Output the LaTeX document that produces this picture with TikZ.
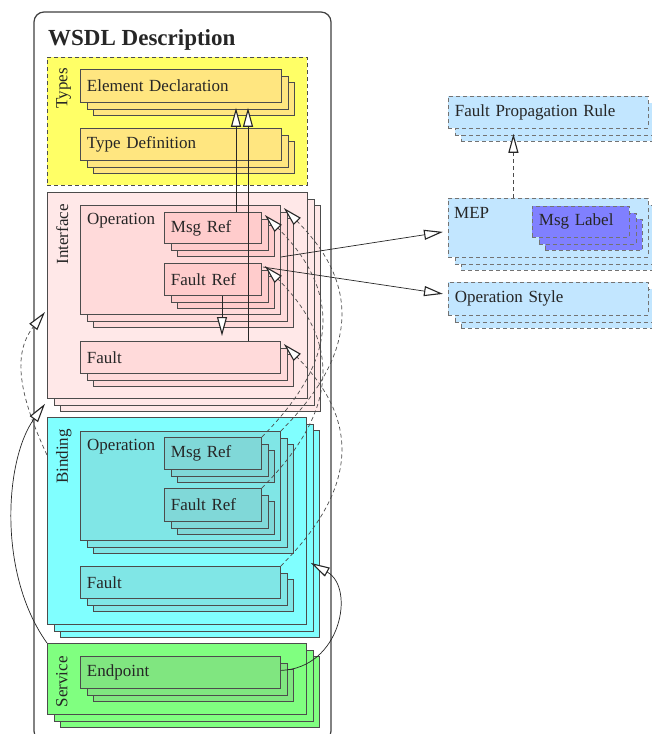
\documentclass[tikz,border=0pt]{standalone}
\usepackage{fontspec}
\setmainfont{Liberation Serif}
\usepackage{xcolor}
\usetikzlibrary{positioning, arrows.meta, shadows, calc}

\definecolor{typesfill}{HTML}{FFFF66}
\definecolor{declfill}{HTML}{FFE680}
\definecolor{ifacefill}{HTML}{FFE8E8}
\definecolor{iopfill}{HTML}{FFDADA}
\definecolor{imsgfill}{HTML}{FFCCCC}
\definecolor{bindfill}{HTML}{80FFFF}
\definecolor{bopfill}{HTML}{80E6E6}
\definecolor{bmsgfill}{HTML}{80D8D8}
\definecolor{servfill}{HTML}{80FF80}
\definecolor{endfill}{HTML}{80E680}
\definecolor{extfill}{HTML}{C2E6FF}
\definecolor{labelfill}{HTML}{8080FF}

\tikzset{
  txt/.style={font=\fontsize{17}{20}\selectfont, text=black!85},
  comp/.style={txt, draw=black!70, line width=0.8pt, anchor=north west, align=left,
    inner xsep=6.5pt, inner ysep=0pt},
  stack/.style={comp, double copy shadow={shadow xshift=6.5pt, shadow yshift=-6.5pt}},
  dstack/.style={stack, draw=black!55, dash pattern=on 4pt off 3pt},
  ref/.style={line width=0.7pt, draw=black!85,
    -{Triangle[length=19pt, width=10pt, color=black!85, fill=white, line width=1.1pt]}},
  dref/.style={ref, draw=black!70, dash pattern=on 4pt off 3pt},
}

\begin{document}
\begin{tikzpicture}[x=1pt,y=1pt,yscale=-1,xscale=1]
  \useasboundingbox[fill=white] (0,0) rectangle (651,734);
  % outer frame
  \draw[draw=black!75, line width=1.2pt, rounded corners=10pt] (34,12) rectangle (331,741);
  \node[txt, font=\bfseries\fontsize{23}{27}\selectfont, anchor=base west, inner sep=0pt] (title) at (48,45) {WSDL Description};

  % types
  \node[comp, dash pattern=on 4pt off 3pt, fill=typesfill, minimum width=260pt, minimum height=128pt] (types) at (47,57) {};
  \node[txt, rotate=90, anchor=north east, inner sep=0pt] (types-t) at ($(types.north west)+(9,11)$) {Types};
  \node[stack, fill=declfill, text width=188pt, minimum height=33pt] (elem) at (80,69) {Element Declaration};
  \node[stack, fill=declfill, text width=188pt, minimum height=32pt] (typedef) at (80,128) {Type Definition};

  % interface
  \node[stack, fill=ifacefill, minimum width=260pt, minimum height=206pt] (iface) at (47,192) {};
  \node[txt, rotate=90, anchor=north east, inner sep=0pt] (iface-t) at ($(iface.north west)+(9,12)$) {Interface};
  \node[stack, fill=iopfill, minimum width=200pt, minimum height=109pt] (iop) at (80,205) {};
  \node[txt, anchor=north west, inner xsep=7pt, inner ysep=8pt] (iop-t) at (iop.north west) {Operation};
  \node[stack, fill=imsgfill, text width=84pt, minimum height=31pt] (imsg) at (164,212) {Msg Ref};
  \node[stack, fill=imsgfill, text width=84pt, minimum height=32pt] (ifref) at (164,263) {Fault Ref};
  \node[stack, fill=iopfill, text width=187pt, minimum height=32pt] (ifault) at (80,341) {Fault};

  % binding
  \node[stack, fill=bindfill, minimum width=259pt, minimum height=207pt] (bind) at (47,417) {};
  \node[txt, rotate=90, anchor=north east, inner sep=0pt] (bind-t) at ($(bind.north west)+(9,12)$) {Binding};
  \node[stack, fill=bopfill, minimum width=200pt, minimum height=109pt] (bop) at (80,431) {};
  \node[txt, anchor=north west, inner xsep=7pt, inner ysep=8pt] (bop-t) at (bop.north west) {Operation};
  \node[stack, fill=bmsgfill, text width=84pt, minimum height=32pt] (bmsg) at (164,437) {Msg Ref};
  \node[stack, fill=bmsgfill, text width=84pt, minimum height=33pt] (bfref) at (164,488) {Fault Ref};
  \node[stack, fill=bopfill, text width=187pt, minimum height=32pt] (bfault) at (80,566) {Fault};

  % service
  \node[stack, fill=servfill, minimum width=259pt, minimum height=71pt] (serv) at (47,643) {};
  \node[txt, rotate=90, anchor=north east, inner sep=0pt] (serv-t) at ($(serv.north west)+(9,13)$) {Service};
  \node[stack, fill=endfill, text width=187pt, minimum height=32pt] (endpt) at (80,656) {Endpoint};

  % outside the description
  \node[dstack, fill=extfill, text width=187pt, minimum height=32pt] (fpr) at (448,96) {Fault Propagation Rule};
  \node[dstack, fill=extfill, minimum width=200pt, minimum height=59pt] (mep) at (448,198) {};
  \node[txt, anchor=north west, inner xsep=6pt, inner ysep=9pt] (mep-t) at (mep.north west) {MEP};
  \node[dstack, fill=labelfill, text width=84pt, minimum height=31pt] (mlabel) at (532,206) {Msg Label};
  \node[dstack, fill=extfill, text width=187pt, minimum height=33pt] (opstyle) at (448,282) {Operation Style};

  % references
  \draw[ref] ($(imsg.north west)+(72,0)$) -- ($(elem.south west)+(156,5)$);
  \draw[ref] ($(ifault.north west)+(168,0)$) -- ($(elem.south west)+(168,5)$);
  \draw[ref] ($(ifref.south west)+(58,0)$) -- ($(ifault.north west)+(142,-5)$);
  \draw[ref] ($(iop.north east)+(0,52)$) -- ($(mep.west)+(-5,4)$);
  \draw[ref] ($(ifref.north east)+(1,4)$) -- ($(opstyle.west)+(-5,-5)$);
  \draw[dref] ($(mep.north)+(-35,0)$) -- ($(fpr.south)+(-35,5)$);
  \foreach \src/\dst in {bop/iop, bmsg/imsg, bfref/ifref, bfault/ifault}
    \draw[dref] (\src.north east) .. controls +(77,-77) and +(77,77) .. ($(\dst.north east)+(3,3)$);
  \draw[dref] ($(bind.north west)+(0,38)$) .. controls +(-28,-60) and +(-33,42) .. ($(iface.north west)+(-2,120)$);
  \draw[ref] (serv.north west) .. controls +(-50,-70) and +(-40,55) .. ($(iface.south west)+(-2,5)$);
  \draw[ref] ($(endpt.east)+(0,-2)$) .. controls +(60,-2) and +(45,25) .. ($(bind.east)+(4,42)$);
\end{tikzpicture}
\end{document}
